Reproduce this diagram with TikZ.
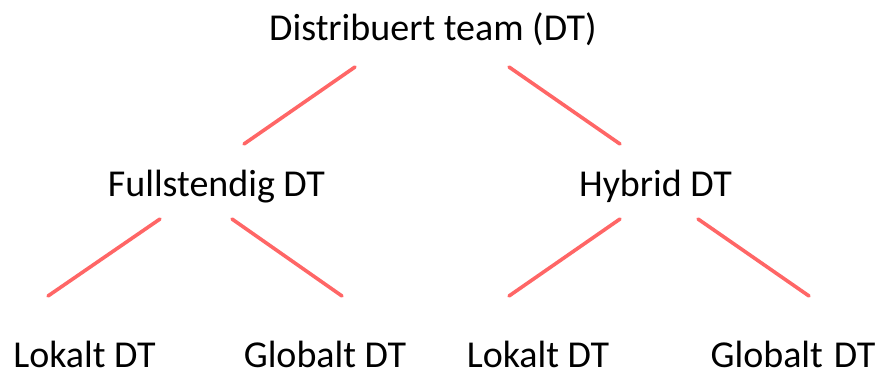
\documentclass[tikz,border=0pt]{standalone}
\usepackage{fontspec}
\setmainfont{Carlito}
\begin{document}
\begin{tikzpicture}[x=1pt,y=-1pt,
  lbl/.style={anchor=base,inner sep=0pt,font=\fontsize{38}{46}\selectfont},
  conn/.style={draw={rgb,255:red,255;green,102;blue,102},line width=3.6pt,line cap=round}]
\useasboundingbox (0,0) rectangle (881,374);
\node[lbl] (dt) at (433,41) {Distribuert team (DT)};
\node[lbl] (full) at (216.5,197) {Fullstendig DT};
\node[lbl] (hyb) at (655.5,197) {Hybrid DT};
\node[lbl] (lok1) at (84.5,367) {Lokalt DT};
\node[lbl] (glo1) at (325,367) {Globalt DT};
\node[lbl] (lok2) at (538,367) {Lokalt DT};
\node[lbl] (glo2) at (793,367) {Globalt\hspace{11pt}DT};
\coordinate (a1) at (355,67); \coordinate (a2) at (244,144);
\coordinate (b1) at (509,67); \coordinate (b2) at (620,144);
\coordinate (c1) at (160,219); \coordinate (c2) at (48,296);
\coordinate (d1) at (232,219); \coordinate (d2) at (342,296);
\coordinate (e1) at (620,219); \coordinate (e2) at (509,296);
\coordinate (f1) at (698,219); \coordinate (f2) at (809,296);
\draw[conn] (a1) -- (a2);
\draw[conn] (b1) -- (b2);
\draw[conn] (c1) -- (c2);
\draw[conn] (d1) -- (d2);
\draw[conn] (e1) -- (e2);
\draw[conn] (f1) -- (f2);
\end{tikzpicture}
\end{document}
